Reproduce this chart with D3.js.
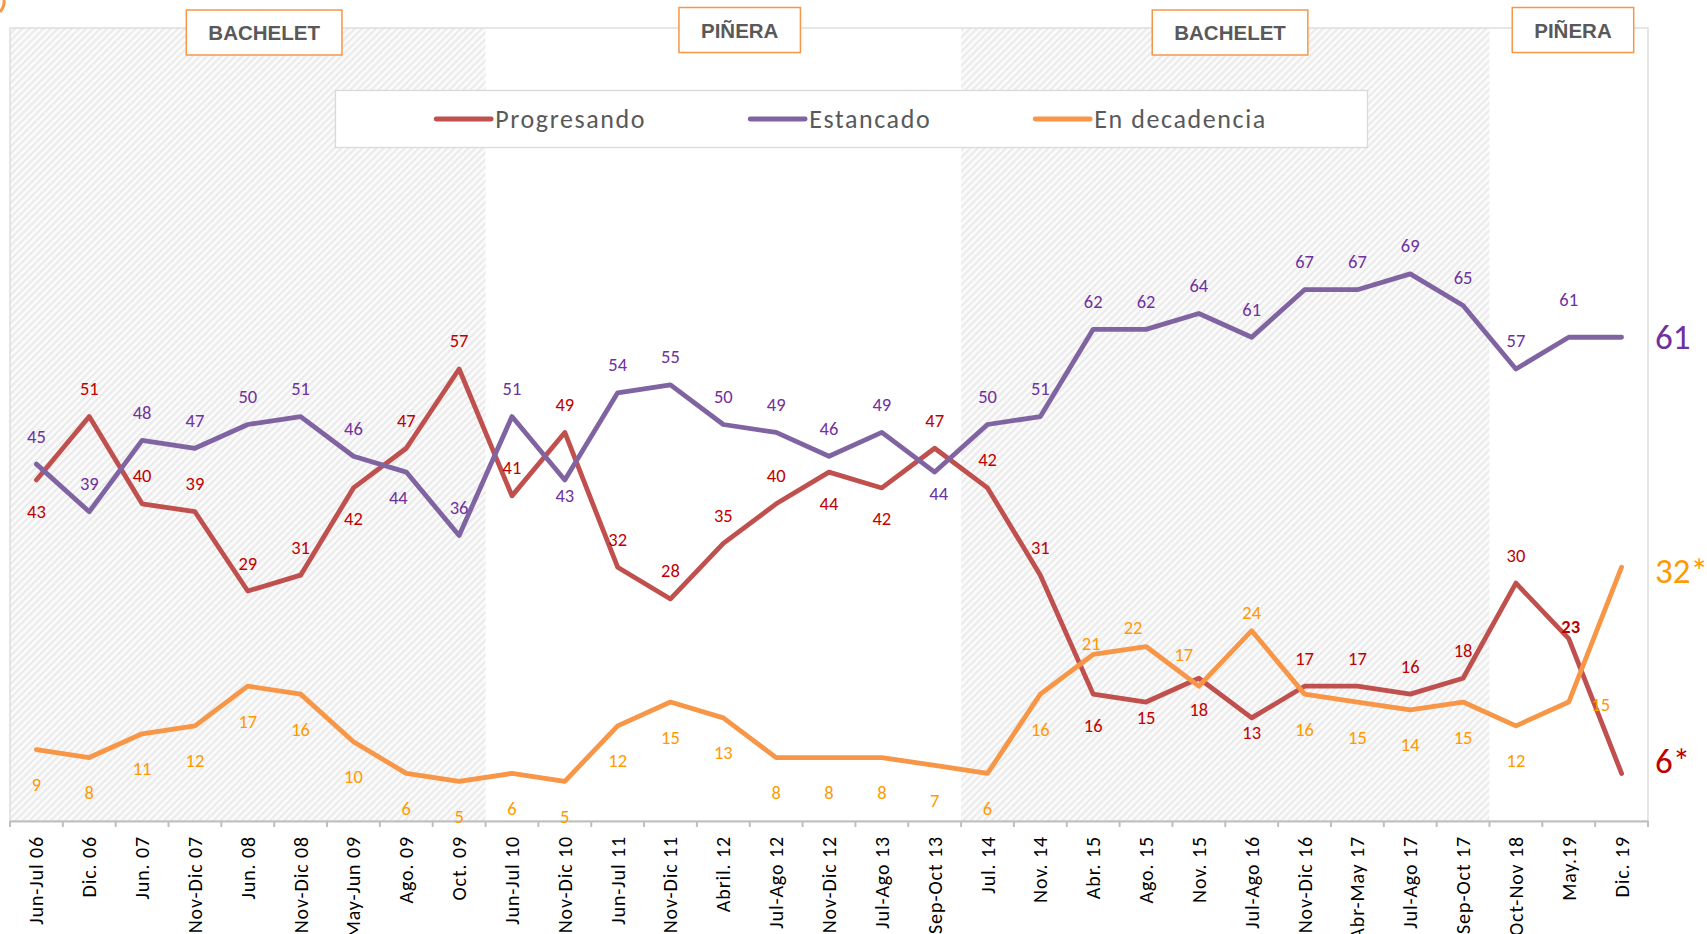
<!DOCTYPE html>
<html>
<head>
<meta charset="utf-8">
<script src="https://cdn.jsdelivr.net/npm/d3@7"></script>
<style>
  body { margin: 0; background: #fff; }
  svg { display: block; font-family: Carlito, Lato, "Open Sans", sans-serif; }
</style>
</head>
<body>
<div id="chart"></div>
<script>
// categories (survey waves)
var categories = ["Jun-Jul 06", "Dic. 06", "Jun. 07", "Nov-Dic 07", "Jun. 08", "Nov-Dic 08",
    "May-Jun 09", "Ago. 09", "Oct. 09", "Jun-Jul 10", "Nov-Dic 10", "Jun-Jul 11", "Nov-Dic 11",
    "Abril. 12", "Jul-Ago 12", "Nov-Dic 12", "Jul-Ago 13", "Sep-Oct 13", "Jul. 14", "Nov. 14",
    "Abr. 15", "Ago. 15", "Nov. 15", "Jul-Ago 16", "Nov-Dic 16", "Abr-May 17", "Jul-Ago 17",
    "Sep-Oct 17", "Oct-Nov 18", "May.19", "Dic. 19"];

var progresando = [43, 51, 40, 39, 29, 31, 42, 47, 57, 41, 49, 32, 28, 35, 40, 44, 42, 47, 42, 31,
    16, 15, 18, 13, 17, 17, 16, 18, 30, 23, 6];
var estancado = [45, 39, 48, 47, 50, 51, 46, 44, 36, 51, 43, 54, 55, 50, 49, 46, 49, 44, 50, 51,
    62, 62, 64, 61, 67, 67, 69, 65, 57, 61, 61];
var decadencia = [9, 8, 11, 12, 17, 16, 10, 6, 5, 6, 5, 12, 15, 13, 8, 8, 8, 7, 6, 16,
    21, 22, 17, 24, 16, 15, 14, 15, 12, 15, 32];

var seriesNames = ["Progresando", "Estancado", "En decadencia"];
var endLabels = ["6*", "61", "32*"];

// government periods (category index ranges)
var periodNames = ["BACHELET", "PIÑERA", "BACHELET", "PIÑERA"];
var periodFrom = [0, 9, 18, 28];
var periodTo = [8, 17, 27, 30];
var periodLabelAt = [4.31, 13.31, 22.59, 29.08];

// label placement codes, one per point ("-" = no small label)
var posProgresando = "b a a a a a b a a a a a a a a b b a a a b m b m a a a a a N -".split(" ");
var posEstancado = "a a a a a a a d a a m a a a a a a c a a a a a a a a a a a A -".split(" ");
var posDecadencia = "B B B B B B B B B B B B B B B B B B B B n l L e B B B B B r -".split(" ");

var offsets = {
    a: [0, -28], b: [0, 31], B: [0, 35], m: [0, 15], n: [-2, -11], N: [2, -12],
    l: [-13, -19], L: [-15, -32], e: [0, -18], r: [32, 2], c: [4, 21], d: [-8, 25], A: [0, -38]
};

var width = 1707, height = 934;
var plotLeft = 10, plotRight = 1648, plotTop = 28, plotBottom = 821;

var svg = d3.select("#chart").append("svg")
    .attr("width", width)
    .attr("height", height);

var defs = svg.append("defs");
var hatch = defs.append("pattern")
    .attr("id", "hatch")
    .attr("patternUnits", "userSpaceOnUse")
    .attr("width", 5)
    .attr("height", 5)
    .attr("patternTransform", "rotate(45)");
hatch.append("rect").attr("width", 5).attr("height", 5).attr("fill", "#fbfbfb");
hatch.append("rect").attr("width", 2.2).attr("height", 5).attr("fill", "#ebebeb");

var x = d3.scaleBand().domain(categories).range([plotLeft, plotRight]).padding(0);
var y = d3.scaleLinear().domain([0, 100]).range([plotBottom, plotTop]);
var cx = function(i) { return x(categories[i]) + x.bandwidth() / 2; };

// shaded periods (Bachelet)
periodNames.forEach(function(name, k) {
    if (name !== "BACHELET") return;
    var x0 = x(categories[periodFrom[k]]);
    var x1 = x(categories[periodTo[k]]) + x.bandwidth();
    svg.append("rect")
        .attr("x", x0).attr("y", plotTop)
        .attr("width", x1 - x0).attr("height", plotBottom - plotTop)
        .attr("fill", "url(#hatch)");
});

// plot border
svg.append("rect")
    .attr("x", plotLeft).attr("y", plotTop)
    .attr("width", plotRight - plotLeft).attr("height", plotBottom - plotTop)
    .attr("fill", "none")
    .attr("stroke", "#d9d9d9")
    .attr("stroke-width", 1.3);

// stray orange corner mark from the source slide
svg.append("path")
    .attr("d", "M0,12 Q5,6 4,0")
    .attr("fill", "none")
    .attr("stroke", "#f79646")
    .attr("stroke-width", 3);

// x axis
var xAxis = svg.append("g")
    .attr("transform", "translate(0," + plotBottom + ")")
    .call(d3.axisBottom(x).tickSize(0).tickSizeOuter(0));
xAxis.select(".domain").attr("stroke", "#bfbfbf").attr("stroke-width", 2);
xAxis.selectAll(".tick text")
    .attr("transform", "rotate(-90)")
    .attr("text-anchor", "end")
    .attr("x", -15)
    .attr("y", 0)
    .attr("dy", "0.35em")
    .attr("fill", "#000")
    .style("font-size", "20px")
    .style("letter-spacing", "0.9px")
    .style("font-family", "Carlito, Lato, sans-serif");
xAxis.selectAll(".boundary")
    .data(categories.concat(["end"]))
    .enter().append("line")
    .attr("class", "boundary")
    .attr("x1", function(d, i) { return plotLeft + i * x.bandwidth(); })
    .attr("x2", function(d, i) { return plotLeft + i * x.bandwidth(); })
    .attr("y1", 0).attr("y2", 6)
    .attr("stroke", "#bfbfbf")
    .attr("stroke-width", 2);

// series
var series = [
    {name: seriesNames[0], values: progresando, pos: posProgresando, line: "#c0504d", text: "#c00000"},
    {name: seriesNames[1], values: estancado, pos: posEstancado, line: "#8064a2", text: "#7030a0"},
    {name: seriesNames[2], values: decadencia, pos: posDecadencia, line: "#f79646", text: "#ff9900"}
];

var line = d3.line()
    .x(function(d, i) { return cx(i); })
    .y(function(d) { return y(d); });

series.forEach(function(s) {
    svg.append("path")
        .datum(s.values)
        .attr("d", line)
        .attr("fill", "none")
        .attr("stroke", s.line)
        .attr("stroke-width", 4.8)
        .attr("stroke-linejoin", "round")
        .attr("stroke-linecap", "round");
});

series.forEach(function(s) {
    var pts = s.values.map(function(v, i) { return {v: v, i: i, code: s.pos[i]}; })
        .filter(function(p) { return p.code !== "-"; });
    svg.append("g").selectAll("text")
        .data(pts)
        .enter().append("text")
        .attr("x", function(p) { return cx(p.i) + offsets[p.code][0]; })
        .attr("y", function(p) { return y(p.v) + offsets[p.code][1]; })
        .attr("text-anchor", "middle")
        .attr("dominant-baseline", "central")
        .attr("fill", s.text)
        .style("font-size", "18.5px")
        .style("font-weight", function(p) { return p.code === "N" ? "bold" : "normal"; })
        .text(function(p) { return p.v; });
});

// big end labels
var endDy = [-12, 0, 4];
series.forEach(function(s, k) {
    var last = s.values.length - 1;
    svg.append("text")
        .attr("x", plotRight + 7)
        .attr("y", y(s.values[last]) + endDy[k])
        .attr("dominant-baseline", "central")
        .attr("fill", s.text)
        .style("font-size", "35px")
        .text(endLabels[k]);
});

// legend
var legend = svg.append("g");
legend.append("rect")
    .attr("x", 335.5).attr("y", 90.5)
    .attr("width", 1032).attr("height", 57)
    .attr("fill", "#fff")
    .attr("stroke", "#d9d9d9")
    .attr("stroke-width", 1.3);
var items = legend.selectAll(".item")
    .data(series)
    .enter().append("g")
    .attr("class", "item");
items.append("line")
    .attr("x1", 0).attr("x2", 55)
    .attr("y1", 0).attr("y2", 0)
    .attr("stroke", function(d) { return d.line; })
    .attr("stroke-width", 4.8)
    .attr("stroke-linecap", "round");
items.append("text")
    .attr("x", 59)
    .attr("dy", "0.36em")
    .attr("fill", "#595959")
    .style("font-size", "26px")
    .style("letter-spacing", "1.6px")
    .text(function(d) { return d.name; });
var widths = [];
items.each(function() { widths.push(this.getBBox().width); });
var gap = 104;
var total = d3.sum(widths) + gap * (widths.length - 1);
var lx = 335.5 + (1032 - total) / 2;
items.attr("transform", function(d, i) {
    var t = "translate(" + lx + ",119)";
    lx += widths[i] + gap;
    return t;
});

// period boxes
periodNames.forEach(function(name, k) {
    var cxp = x(categories[0]) + (periodLabelAt[k] + 0.5) * x.bandwidth();
    var cyp = name === "BACHELET" ? 32.5 : 30;
    var g = svg.append("g");
    var t = g.append("text")
        .attr("x", cxp).attr("y", cyp)
        .attr("text-anchor", "middle")
        .attr("dominant-baseline", "central")
        .attr("fill", "#595959")
        .style("font-family", "'Liberation Sans', Arial, sans-serif")
        .style("font-weight", "bold")
        .style("font-size", "20.5px")
        .text(name);
    var w = t.node().getComputedTextLength() + 44;
    g.insert("rect", "text")
        .attr("x", cxp - w / 2).attr("y", cyp - 22.5)
        .attr("width", w).attr("height", 45)
        .attr("fill", "#fff")
        .attr("stroke", "#f79646")
        .attr("stroke-width", 1.5);
});
</script>
</body>
</html>
